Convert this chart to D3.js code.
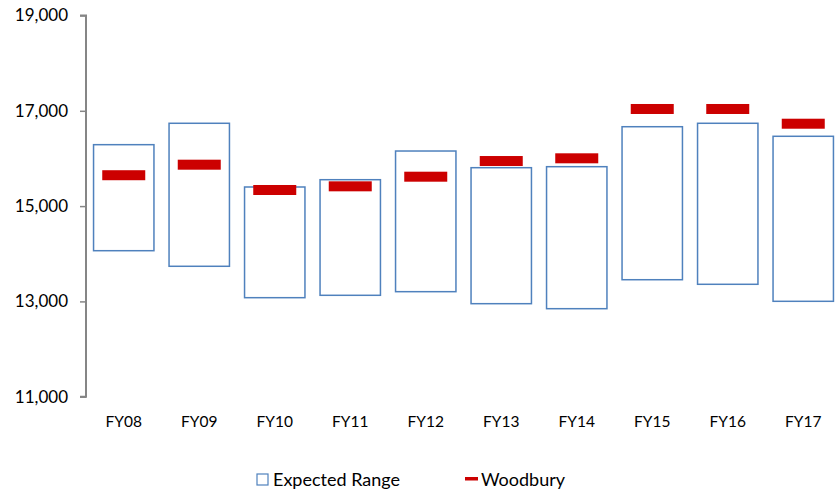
<!DOCTYPE html>
<html><head><meta charset="utf-8">
<script src="https://cdn.jsdelivr.net/npm/d3@7"></script>
<style>body{margin:0;background:#fff}svg{display:block}text{font-family:Lato,"Open Sans",sans-serif;fill:#000}</style>
</head><body><svg id="c" width="835" height="492"></svg>
<script>
const categories = ["FY08","FY09","FY10","FY11","FY12","FY13","FY14","FY15","FY16","FY17"];
const rangeLow  = [14064,13737,13078,13128,13204,12952,12847,13455,13359,13002];
const rangeHigh = [16289,16738,15401,15554,16156,15806,15827,16666,16738,16465];
const woodbury  = [15648,15869,15338,15415,15617,15946,16003,17038,17038,16729];
const yTicks = [11000,13000,15000,17000,19000];
const legendLabels = ["Expected Range","Woodbury"];

const svg = d3.select("#c");
const x = d3.scaleBand().domain(categories).range([86, 841]).paddingInner(0.2).paddingOuter(0.1);
const y = d3.scaleLinear().domain([11000,19000]).range([396.7, 15.5]);

const yAxis = svg.append("g").attr("transform","translate(86,0)")
  .call(d3.axisLeft(y).tickValues(yTicks).tickFormat(d3.format(",")).tickSize(6).tickPadding(12));
yAxis.select(".domain").attr("stroke","#868686").attr("stroke-width",2).attr("d","M-6,15.5H0V396.7H-6");
yAxis.selectAll(".tick line").attr("stroke","#868686").attr("stroke-width",1.5);
yAxis.selectAll(".tick text").style("font-size","17px").attr("fill","#000");

const bw = x.bandwidth();
svg.append("g").selectAll("rect").data(categories).join("rect")
  .attr("x", d => x(d)).attr("width", bw)
  .attr("y", (d,i) => y(rangeHigh[i])).attr("height", (d,i) => y(rangeLow[i]) - y(rangeHigh[i]))
  .attr("fill","none").attr("stroke","#4F81BD").attr("stroke-width",1.5);

const mw = 43;
svg.append("g").selectAll("rect").data(categories).join("rect")
  .attr("x", d => x(d) + bw/2 - mw/2).attr("width", mw)
  .attr("y", (d,i) => y(woodbury[i]) - 5).attr("height", 10)
  .attr("fill","#CC0000");

svg.append("g").selectAll("text").data(categories).join("text")
  .attr("x", d => x(d) + bw/2).attr("y", 426.5).attr("text-anchor","middle")
  .style("font-size","15.5px").text(d => d);

// legend
svg.append("rect").attr("x",257).attr("y",474).attr("width",11).attr("height",11)
  .attr("fill","none").attr("stroke","#4F81BD").attr("stroke-width",1.2);
svg.append("text").attr("x",273).attr("y",486).style("font-size","18px").text(legendLabels[0]);
svg.append("rect").attr("x",465).attr("y",477).attr("width",13).attr("height",3.5).attr("fill","#CC0000");
svg.append("text").attr("x",481).attr("y",486).style("font-size","18px").text(legendLabels[1]);
</script></body></html>
